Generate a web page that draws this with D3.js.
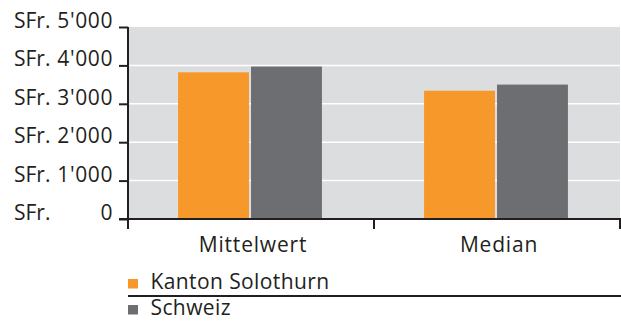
<!DOCTYPE html>
<html>
<head>
<meta charset="utf-8">
<script src="https://cdn.jsdelivr.net/npm/d3@7"></script>
<style>
  html, body { margin: 0; padding: 0; background: #fff; }
  svg { display: block; font-family: "Open Sans", "Noto Sans", sans-serif; }
</style>
</head>
<body>
<svg id="chart" width="621" height="321"></svg>
<script>
// Monthly amounts in Swiss francs
const categories = ["Mittelwert", "Median"];
const seriesNames = ["Kanton Solothurn", "Schweiz"];
const solothurnValues = [3820, 3340];
const schweizValues = [3970, 3500];
const yTicks = [0, 1000, 2000, 3000, 4000, 5000];
const colors = ["#f6992a", "#6d6e72"];

const svg = d3.select("#chart");
const x0 = 128, x1 = 620, yTop = 27, yBottom = 219;
const fontSize = 21;
const textColor = "#231f20";
const axisColor = "#231f20";

const x = d3.scaleBand().domain(categories).range([x0, x1]);
const xs = d3.scaleBand().domain(seriesNames).range([0, x.bandwidth()]).paddingInner(0.028).paddingOuter(0.7);
const y = d3.scaleLinear().domain([0, 5000]).range([yBottom, yTop]);

// plot background
svg.append("rect")
  .attr("x", x0).attr("y", yTop)
  .attr("width", x1 - x0).attr("height", yBottom - yTop)
  .attr("fill", "#dcdddf");

// white gridlines
svg.append("g").selectAll("line")
  .data(yTicks.filter(d => d > 0 && d < 5000))
  .join("line")
  .attr("x1", x0).attr("x2", x1)
  .attr("y1", d => y(d)).attr("y2", d => y(d))
  .attr("stroke", "#fff").attr("stroke-width", 1.5);

// bars
const rows = categories.map((c, i) => ({ cat: c, vals: [solothurnValues[i], schweizValues[i]] }));
svg.append("g").selectAll("g")
  .data(rows)
  .join("g")
  .attr("transform", d => `translate(${x(d.cat) - 1},0)`)
  .selectAll("rect")
  .data(d => d.vals.map((v, j) => ({ name: seriesNames[j], v, j })))
  .join("rect")
  .attr("x", d => xs(d.name))
  .attr("width", xs.bandwidth())
  .attr("y", d => y(d.v))
  .attr("height", d => yBottom - y(d.v))
  .attr("fill", d => colors[d.j]);

// y axis
const yAxis = d3.axisLeft(y).tickValues(yTicks).tickSize(9).tickFormat(() => "");
const gy = svg.append("g").attr("transform", `translate(${x0},0)`).call(yAxis);
gy.select(".domain").attr("stroke", axisColor).attr("stroke-width", 2).attr("d", `M0,${yTop}V${yBottom + 10}`);
gy.selectAll(".tick line").attr("stroke", axisColor).attr("stroke-width", 2);

// y tick labels: currency prefix left, number right-aligned
const fmt = d => d === 0 ? "0" : d3.format(",")(d).replace(/,/g, "'");
const labels = svg.append("g").attr("font-size", fontSize).attr("fill", textColor);
labels.selectAll("text.pre")
  .data(yTicks).join("text")
  .attr("class", "pre")
  .attr("x", 14).attr("y", d => y(d) + 1)
  .text("SFr.");
labels.selectAll("text.num")
  .data(yTicks).join("text")
  .attr("class", "num")
  .attr("x", 113).attr("y", d => y(d) + 1)
  .attr("text-anchor", "end")
  .attr("letter-spacing", 0.6)
  .text(fmt);

// x axis
svg.append("line")
  .attr("x1", x0 - 9).attr("x2", x1 + 1)
  .attr("y1", yBottom).attr("y2", yBottom)
  .attr("stroke", axisColor).attr("stroke-width", 2);
const bounds = [x0, x0 + x.bandwidth(), x1];
svg.append("g").selectAll("line")
  .data(bounds).join("line")
  .attr("x1", d => d).attr("x2", d => d)
  .attr("y1", yBottom).attr("y2", yBottom + 10)
  .attr("stroke", axisColor).attr("stroke-width", 2);

svg.append("g").selectAll("text")
  .data(categories).join("text")
  .attr("x", d => x(d) + x.bandwidth() / 2 + 2)
  .attr("y", 251.5)
  .attr("text-anchor", "middle")
  .attr("font-size", fontSize)
  .attr("letter-spacing", 0.8)
  .attr("fill", textColor)
  .text(d => d);

// legend
const legend = svg.append("g");
const legendRows = [289, 315];
seriesNames.forEach((name, i) => {
  legend.append("rect")
    .attr("x", 128).attr("y", legendRows[i] - 10)
    .attr("width", 10).attr("height", 9.5)
    .attr("fill", colors[i]);
  legend.append("text")
    .attr("x", 150.5).attr("y", legendRows[i])
    .attr("font-size", fontSize)
    .attr("letter-spacing", 0.4)
    .attr("fill", textColor)
    .text(name);
});
legend.append("line")
  .attr("x1", 128).attr("x2", 621)
  .attr("y1", 296).attr("y2", 296)
  .attr("stroke", axisColor).attr("stroke-width", 2);
</script>
</body>
</html>
